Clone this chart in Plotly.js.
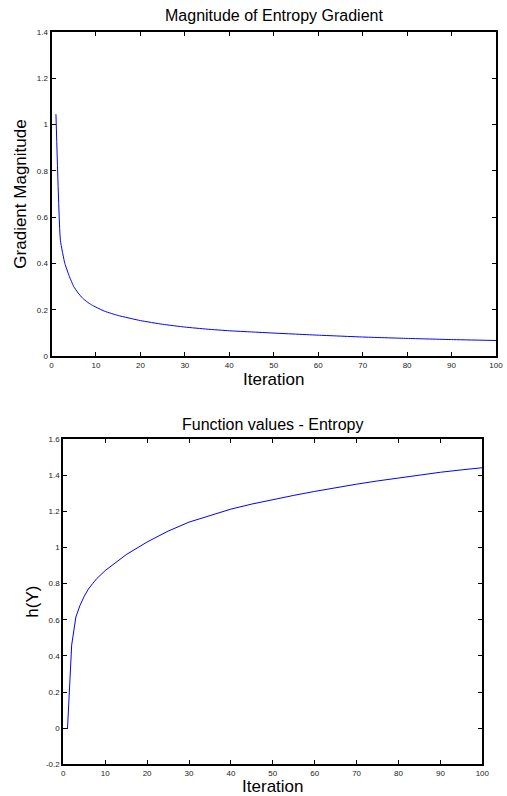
<!DOCTYPE html>
<html>
<head>
<meta charset="utf-8">
<script src="https://cdn.plot.ly/plotly-3.0.1.min.js"></script>
<style>
html,body{margin:0;padding:0;background:#fff;}
#chart{width:507px;height:796px;}
</style>
</head>
<body>
<div id="chart"></div>
<script>
// Top panel: magnitude of entropy gradient per iteration
const gradIter = [1, 2, 3, 4, 5, 6, 7, 8, 9, 10, 12, 15, 20, 25, 30, 35, 40, 45, 50, 60, 70, 80, 90, 100];
const gradMag  = [1.045, 0.50, 0.40, 0.345, 0.30, 0.272, 0.25, 0.234, 0.221, 0.211, 0.193, 0.175, 0.153, 0.137, 0.125, 0.116, 0.109, 0.104, 0.099, 0.090, 0.082, 0.076, 0.071, 0.067];

// Bottom panel: entropy function values per iteration
const entIter = [1, 2, 3, 4, 5, 6, 7, 8, 10, 12, 15, 20, 25, 30, 35, 40, 45, 50, 55, 60, 65, 70, 75, 80, 85, 90, 95, 100];
const entVal  = [-0.005, 0.46, 0.615, 0.68, 0.73, 0.77, 0.80, 0.828, 0.872, 0.908, 0.960, 1.030, 1.090, 1.140, 1.178, 1.212, 1.240, 1.265, 1.288, 1.310, 1.331, 1.350, 1.368, 1.385, 1.401, 1.416, 1.429, 1.441];

const xTicks = [0, 10, 20, 30, 40, 50, 60, 70, 80, 90, 100];
const y1Ticks = [0, 0.2, 0.4, 0.6, 0.8, 1, 1.2, 1.4];
const y1Text  = ["0", "0.2", "0.4", "0.6", "0.8", "1", "1.2", "1.4"];
const y2Ticks = [-0.2, 0, 0.2, 0.4, 0.6, 0.8, 1, 1.2, 1.4, 1.6];
const y2Text  = ["-0.2", "0", "0.2", "0.4", "0.6", "0.8", "1", "1.2", "1.4", "1.6"];

const FONT = "Liberation Sans, Arial, sans-serif";

function axisBase(extra) {
  return Object.assign({
    showline: true, linecolor: "#000", linewidth: 2,
    mirror: "allticks", ticks: "inside", ticklen: 4, tickwidth: 1, tickcolor: "#000",
    showgrid: false, zeroline: false,
    tickfont: {family: FONT, size: 8, color: "#222"},
    fixedrange: true
  }, extra);
}

const traces = [
  {x: gradIter, y: gradMag, type: "scatter", mode: "lines",
   line: {color: "#0000ff", width: 1, shape: "spline", smoothing: 0.4}, xaxis: "x", yaxis: "y", hoverinfo: "skip"},
  {x: entIter, y: entVal, type: "scatter", mode: "lines",
   line: {color: "#0000ff", width: 1}, xaxis: "x2", yaxis: "y2", hoverinfo: "skip"}
];

const W = 507, H = 796;
const layout = {
  width: W, height: H,
  margin: {l: 0, r: 0, t: 0, b: 0},
  paper_bgcolor: "#fff", plot_bgcolor: "#fff",
  showlegend: false,
  font: {family: FONT, color: "#000"},
  xaxis: axisBase({
    domain: [51.5 / W, 496 / W], anchor: "y", range: [0, 100],
    tickvals: xTicks, ticktext: xTicks.map(String),
    title: {text: "Iteration", font: {family: FONT, size: 17, color: "#000"}, standoff: 4}
  }),
  yaxis: axisBase({
    domain: [(H - 356) / H, (H - 32) / H], anchor: "x", range: [0, 1.4],
    tickvals: y1Ticks, ticktext: y1Text,
    title: {text: "Gradient Magnitude", font: {family: FONT, size: 17, color: "#000"}, standoff: 6}
  }),
  xaxis2: axisBase({
    domain: [63.3 / W, 482.3 / W], anchor: "y2", range: [0, 100],
    tickvals: xTicks, ticktext: xTicks.map(String),
    title: {text: "Iteration", font: {family: FONT, size: 17, color: "#000"}, standoff: 2}
  }),
  yaxis2: axisBase({
    domain: [(H - 764.3) / H, (H - 439) / H], anchor: "x2", range: [-0.2, 1.6],
    tickvals: y2Ticks, ticktext: y2Text,
    title: {text: "h(Y)", font: {family: FONT, size: 17, color: "#000"}, standoff: 3}
  }),
  annotations: [
    {text: "Magnitude of Entropy Gradient", xref: "paper", yref: "paper",
     x: (51.5 + 496) / 2 / W, y: (H - 16) / H, xanchor: "center", yanchor: "middle",
     showarrow: false, font: {family: FONT, size: 16, color: "#000"}},
    {text: "Function values - Entropy", xref: "paper", yref: "paper",
     x: (63.3 + 482.3) / 2 / W, y: (H - 424) / H, xanchor: "center", yanchor: "middle",
     showarrow: false, font: {family: FONT, size: 16, color: "#000"}}
  ]
};

Plotly.newPlot("chart", traces, layout, {staticPlot: true, displayModeBar: false});
</script>
</body>
</html>
